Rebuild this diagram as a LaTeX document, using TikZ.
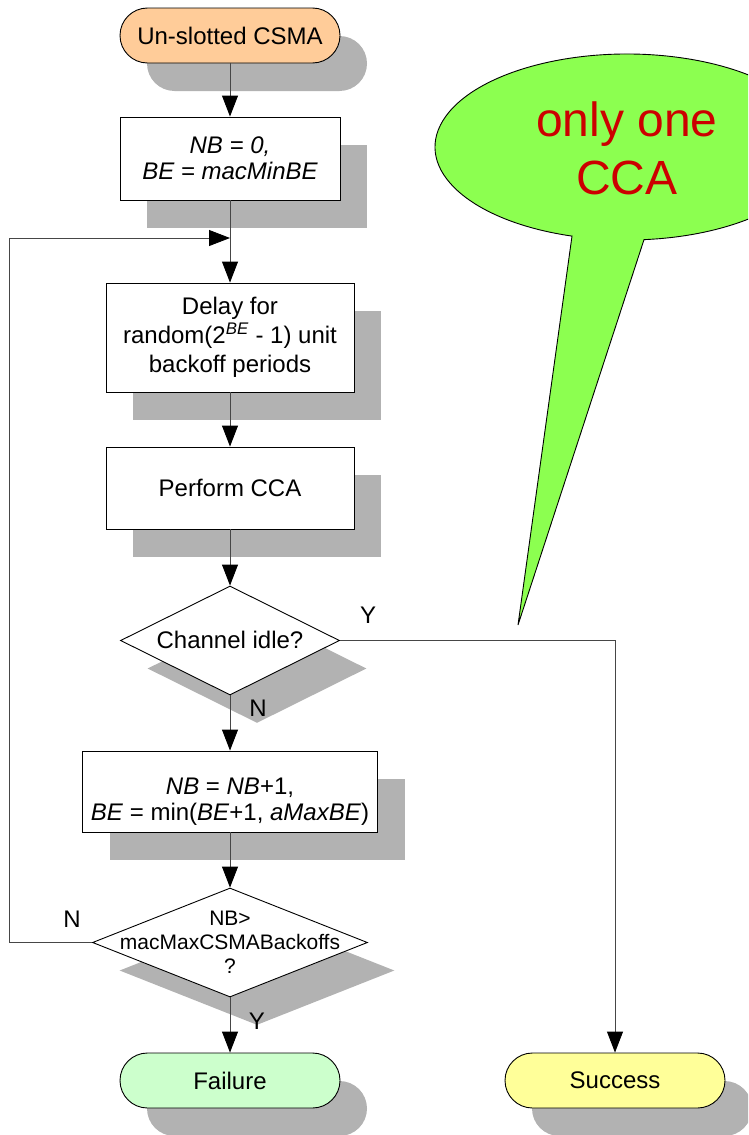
\documentclass[tikz,border=0pt]{standalone}
\usepackage{fontspec}
\setmainfont{Liberation Sans}
\usetikzlibrary{shapes.geometric,arrows.meta,shadows}

\definecolor{shadowgray}{RGB}{178,178,178}
\definecolor{startfill}{RGB}{255,204,153}
\definecolor{failfill}{RGB}{204,255,204}
\definecolor{succfill}{RGB}{255,255,153}
\definecolor{calloutfill}{RGB}{140,255,80}
\definecolor{callouttext}{RGB}{204,0,0}
\definecolor{linegray}{RGB}{70,70,70}

\begin{document}
\begin{tikzpicture}[x=1pt,y=-1pt,
  shadowed/.style={general shadow={shadow xshift=27pt,shadow yshift=-28pt,fill=shadowgray,draw=none}},
  base/.style={draw=black,line width=0.9pt,inner sep=0pt,align=center,
    font=\fontsize{24pt}{29pt}\selectfont},
  terminal/.style={base,shadowed,rectangle,rounded corners=27.5pt,minimum height=55pt,minimum width=220pt},
  process/.style={base,shadowed,rectangle,fill=white},
  decision/.style={base,shadowed,diamond,fill=white,minimum height=109pt},
  inner text/.style={inner sep=0pt,align=center,font=\fontsize{24pt}{26pt}\selectfont},
  label text/.style={inner sep=0pt,font=\fontsize{24pt}{29pt}\selectfont},
  conn/.style={draw=linegray,line width=0.9pt},
  arr/.style={conn,-{Triangle[length=21pt,width=16pt,color=black]}}
]
\useasboundingbox (0,0) rectangle (748,1135);
\clip (0,0) rectangle (748,1135);

% speech bubble with its tail
\filldraw[fill=calloutfill,draw=black,line width=0.9pt,line join=miter]
  (572,236.1) arc[start angle=106.65,end angle=444.92,x radius=192,y radius=93]
  -- (518,625) -- cycle;
\node[inner sep=0pt,align=center,text=callouttext,
  font=\fontsize{48pt}{58pt}\selectfont] (calltext) at (627,148.5) {only one\\CCA};

% flow chart nodes
\node[terminal,fill=startfill] (start) at (230,35.5) {Un-slotted CSMA};
\node[process,minimum width=220pt,minimum height=83pt,
  font=\fontsize{24pt}{26pt}\selectfont\itshape] (init) at (230,158.5)
  {NB = 0,\\BE = macMinBE};
\node[process,minimum width=248pt,minimum height=109pt] (delay) at (230,337.5)
  {Delay for\\random(2\textsuperscript{\textit{BE}} - 1) unit\\backoff periods};
\node[process,minimum width=248pt,minimum height=82pt] (cca) at (230,488) {Perform CCA};
\node[decision,minimum width=219pt] (idle) at (230,640.5) {};
\node[inner text] (idletext) at (230,640) {Channel idle?};
\node[process,minimum width=295pt,minimum height=81pt] (incr) at (230,791.5) {};
\node[inner text] (incrtext) at (230,802)
  {\textit{NB} = \textit{NB}+1,\\\textit{BE} = min(\textit{BE}+1, \textit{aMaxBE})};
\node[decision,minimum width=275pt] (limit) at (230,942.5) {};
\node[inner text,font=\fontsize{21pt}{24pt}\selectfont] (limittext) at (230,942)
  {NB>\\macMaxCSMABackoffs\\?};
\node[terminal,fill=failfill] (fail) at (230,1080.5) {Failure};
\node[terminal,fill=succfill] (succ) at (615,1080.5) {Success};

% connectors
\coordinate (merge) at (230,238);
\draw[arr] (start) -- (init);
\draw[arr] (init) -- (delay);
\draw[arr] (delay) -- (cca);
\draw[arr] (cca) -- (idle);
\draw[arr] (idle) -- (incr);
\draw[arr] (incr) -- (limit);
\draw[arr] (limit) -- (fail);
\draw[arr] (idle.east) -| (succ.north);
\draw[arr] (limit.west) -- ++(-83,0) |- (merge);

% branch labels
\node[label text] (yidle) at (368,615) {Y};
\node[label text] (nidle) at (258,708) {N};
\node[label text] (nlimit) at (72,919) {N};
\node[label text] (ylimit) at (257,1021) {Y};
\end{tikzpicture}
\end{document}
